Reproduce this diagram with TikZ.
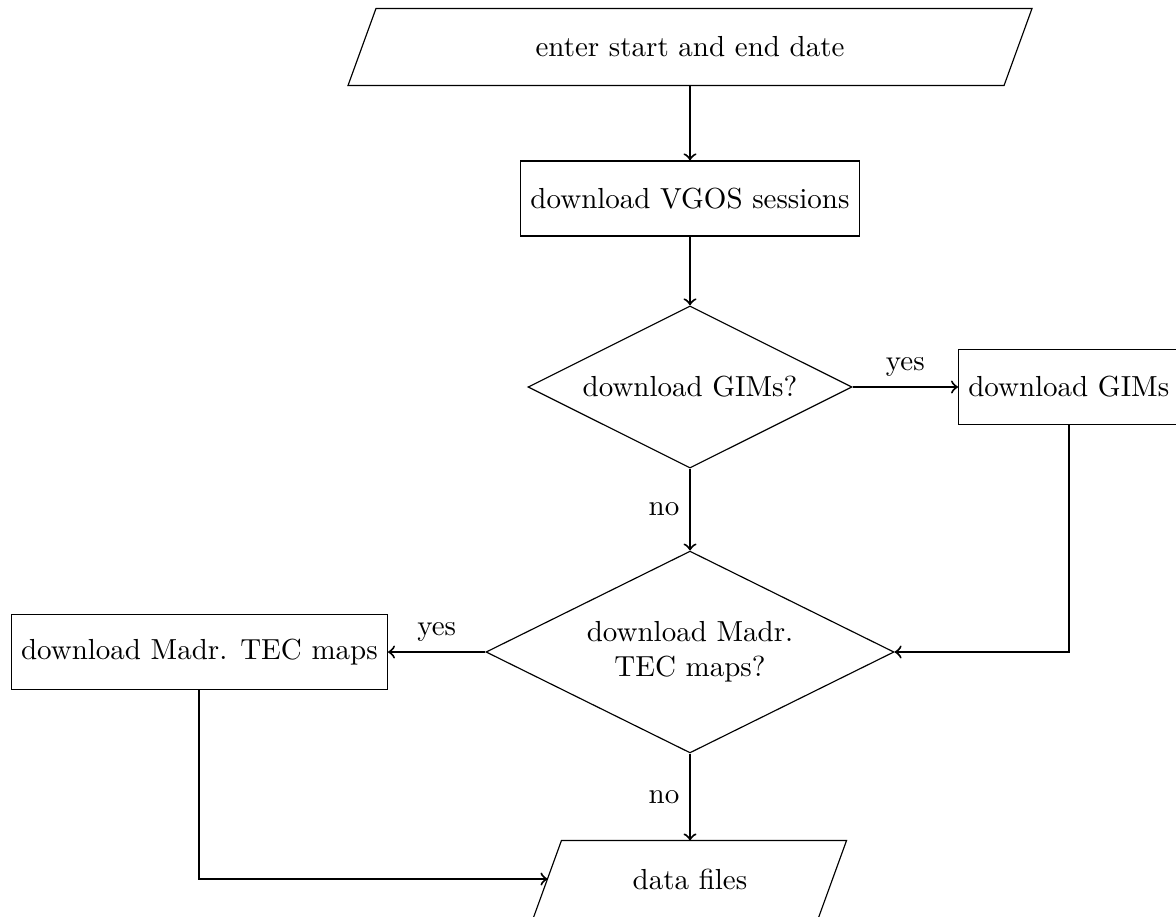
\documentclass[tikz,border=0pt]{standalone}
\usetikzlibrary{shapes.geometric,calc}
\begin{document}
\begin{tikzpicture}[x=0.3448pt,y=-0.3448pt,
  every node/.style={font=\normalsize},
  iobox/.style={rectangle,draw=none,minimum width=#1,minimum height=26.2pt,inner sep=0pt},
  procbox/.style={rectangle,draw,thin,minimum height=25.9pt,inner xsep=3.33pt},
  decision/.style={diamond,draw,thin,inner sep=0pt,aspect=2,align=center},
  conn/.style={->,line width=0.7pt},
  lbl/.style={inner sep=3.33pt}
]
\useasboundingbox (0,0) rectangle (1176,916);

\node[iobox=225.8pt] (start) at (690,47) {enter start and end date};
\draw[thin] ([xshift=4.83pt]start.north west) -- ([xshift=4.83pt]start.north east)
  -- ([xshift=-4.83pt]start.south east) -- ([xshift=-4.83pt]start.south west) -- cycle;

\node[procbox] (vgos) at (690,198.5) {download VGOS sessions};

\node[decision,minimum width=111.7pt,minimum height=55.9pt] (d1) at (690,387) {download GIMs?};

\node[procbox,anchor=west] (gims) at (958,387) {download GIMs};

\node[decision,minimum width=140.7pt,minimum height=69.6pt] (d2) at (690,652) {download Madr.\\TEC maps?};

\node[procbox,anchor=east] (madr) at (388,652) {download Madr. TEC maps};

\node[iobox=97.9pt] (data) at (690,879) {data files};
\draw[thin] ([xshift=4.83pt]data.north west) -- ([xshift=4.83pt]data.north east)
  -- ([xshift=-4.83pt]data.south east) -- ([xshift=-4.83pt]data.south west) -- cycle;

\draw[conn] (start) -- (vgos);
\draw[conn] (vgos) -- (d1);
\draw[conn] (d1.east) -- node[lbl,above] {yes} (gims.west);
\draw[conn] (d1.south) -- node[lbl,left] {no} (d2.north);
\draw[conn] (gims.south) |- (d2.east);
\draw[conn] (d2.west) -- node[lbl,above] {yes} (madr.east);
\draw[conn] (d2.south) -- node[lbl,left] {no} (data.north);
\draw[conn] (madr.south) |- (data.west);
\end{tikzpicture}
\end{document}
